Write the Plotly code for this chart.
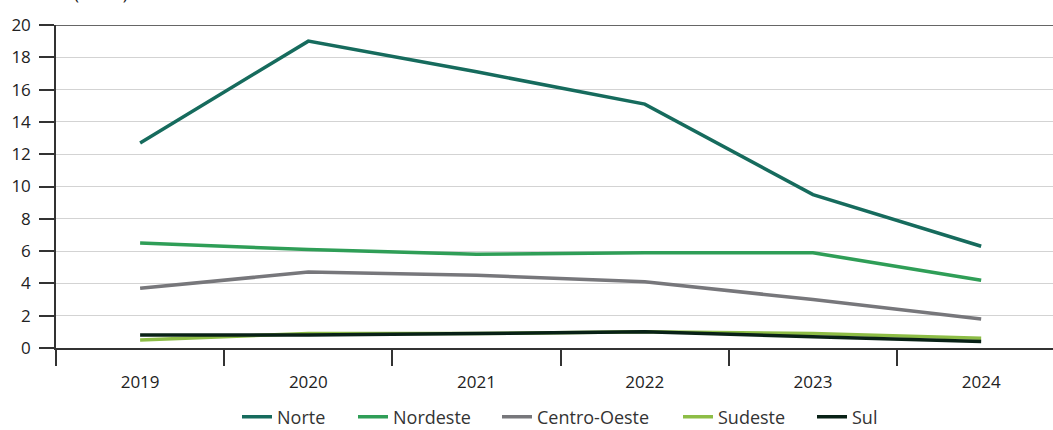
import plotly.graph_objects as go

years = ["2019", "2020", "2021", "2022", "2023", "2024"]
norte = [12.7, 19.0, 17.1, 15.1, 9.5, 6.3]
nordeste = [6.5, 6.1, 5.8, 5.9, 5.9, 4.2]
centro_oeste = [3.7, 4.7, 4.5, 4.1, 3.0, 1.8]
sudeste = [0.5, 0.9, 0.9, 1.0, 0.9, 0.6]
sul = [0.8, 0.8, 0.9, 1.0, 0.7, 0.4]

series = [
    ("Norte", norte, "#166b5d"),
    ("Nordeste", nordeste, "#2f9e57"),
    ("Centro-Oeste", centro_oeste, "#77777b"),
    ("Sudeste", sudeste, "#8dbd46"),
    ("Sul", sul, "#082116"),
]
legend_x = [242, 358, 502, 683, 817]  # left edge of each legend sample line (px)

font_family = "Open Sans, Noto Sans, sans-serif"
fig = go.Figure()
layout_legends = {}
for i, ((name, vals, color), lx) in enumerate(zip(series, legend_x)):
    key = "legend" if i == 0 else f"legend{i + 1}"
    fig.add_trace(go.Scatter(x=years, y=vals, name=name, mode="lines", legend=key,
                             line=dict(color=color, width=3.5)))
    layout_legends[key] = dict(orientation="h", xref="container", yref="container",
                               x=(lx - 5) / 1053, xanchor="left", y=13 / 430, yanchor="middle",
                               font=dict(size=18, color="#333"), itemwidth=30,
                               bgcolor="rgba(0,0,0,0)")

fig.update_layout(
    width=1053, height=430,
    margin=dict(l=56, r=0, t=25, b=82),
    plot_bgcolor="white", paper_bgcolor="white",
    font=dict(family=font_family, size=17, color="#222"),
    showlegend=True,
    xaxis=dict(type="category", range=[-0.5, 5.427], showgrid=False, automargin=False,
               showline=True, linecolor="#333", linewidth=1.5,
               ticks="outside", tickson="boundaries", ticklen=16, tickcolor="#333",
               tickwidth=1.5, ticklabelstandoff=18, tickfont=dict(size=17, color="#222")),
    yaxis=dict(range=[0, 20], dtick=2, showgrid=True, gridcolor="#d3d3d3", gridwidth=1.2,
               showline=True, linecolor="#333", linewidth=1.5, zeroline=False, automargin=False,
               ticks="outside", ticklen=15, tickcolor="#333", tickwidth=1.5,
               ticklabelstandoff=5, tickfont=dict(size=17, color="#222")),
    **layout_legends,
)
fig.add_shape(type="line", xref="paper", yref="y", x0=0, x1=1, y0=20, y1=20,
              line=dict(color="#666", width=2))
fig.add_annotation(text="(Em %)", xref="paper", yref="paper", x=(72 - 56) / 997, y=1 + 18 / 323,
                   xanchor="left", yanchor="bottom", showarrow=False,
                   font=dict(size=17, color="#222"))
fig.write_html("out.html", config={"displayModeBar": False},
               post_script="document.body.style.margin='0';document.body.style.overflow='hidden';")
